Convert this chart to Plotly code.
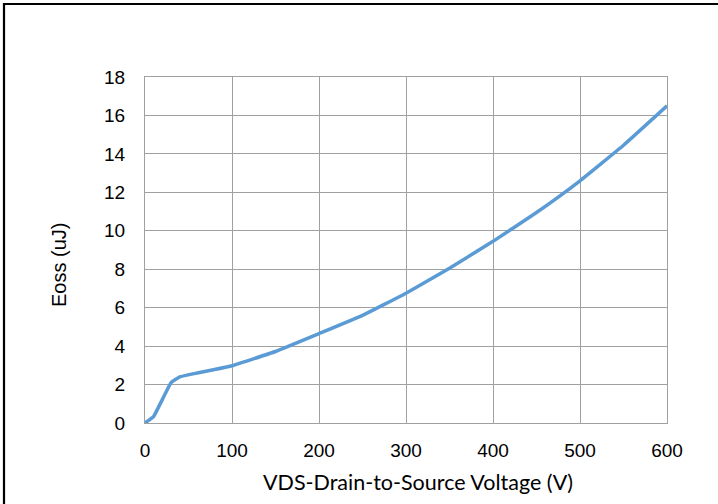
import plotly.graph_objects as go

vds = [0, 10, 30, 40, 60, 80, 100, 150, 200, 250, 300, 350, 400, 450, 500, 550, 600]
eoss = [0, 0.35, 2.1, 2.4, 2.6, 2.78, 2.98, 3.72, 4.65, 5.6, 6.75, 8.05, 9.45, 10.95, 12.6, 14.45, 16.5]
x_ticks = [0, 100, 200, 300, 400, 500, 600]
y_ticks = [0, 2, 4, 6, 8, 10, 12, 14, 16, 18]

W, H = 718, 504
L, R, T, B = 145, 51, 77, 81
pw, ph = W - L - R, H - T - B

def px(xp):
    return (xp - L) / pw

def py(yp):
    return (H - B - yp) / ph

fig = go.Figure()
fig.add_trace(go.Scatter(x=vds, y=eoss, mode="lines",
                         line=dict(color="#5B9BD5", width=3.5, shape="spline", smoothing=0.3),
                         showlegend=False, hoverinfo="skip"))

tickfont = dict(family="Liberation Sans, Arial, sans-serif", size=19, color="#000000")
fig.update_xaxes(range=[0, 600], tickvals=x_ticks, ticktext=[str(v) for v in x_ticks],
                 showgrid=True, gridcolor="#A0A0A0", gridwidth=1.3, zeroline=False,
                 showline=True, linecolor="#A0A0A0", linewidth=1.3, mirror=True,
                 tickfont=tickfont, ticks="", ticklabelstandoff=10)
fig.update_yaxes(range=[0, 18], tickvals=y_ticks, ticktext=[str(v) for v in y_ticks],
                 showgrid=True, gridcolor="#A0A0A0", gridwidth=1.3, zeroline=False,
                 showline=True, linecolor="#A0A0A0", linewidth=1.3, mirror=True,
                 tickfont=tickfont, ticks="", ticklabelstandoff=15)

fig.add_annotation(text="VDS-Drain-to-Source Voltage (V)", xref="paper", yref="paper",
                   x=px(418), y=py(482), showarrow=False, xanchor="center", yanchor="middle",
                   font=dict(family="Lato, Open Sans, sans-serif", size=21.5, color="#000000"))
fig.add_annotation(text="Eoss (uJ)", xref="paper", yref="paper", textangle=-90,
                   x=px(59), y=py(265), showarrow=False, xanchor="center", yanchor="middle",
                   font=dict(family="Liberation Sans, Arial, sans-serif", size=20, color="#000000"))

fig.add_shape(type="rect", xref="paper", yref="paper",
              x0=px(4), x1=px(W + 20), y0=py(H + 20), y1=py(4),
              line=dict(color="#000000", width=2.2), fillcolor="rgba(0,0,0,0)", layer="below")

fig.update_layout(width=W, height=H, margin=dict(l=L, r=R, t=T, b=B),
                  paper_bgcolor="#FFFFFF", plot_bgcolor="#FFFFFF")

fig.write_html("out.html", config={"displayModeBar": False},
               post_script="document.body.style.margin='0';document.body.style.overflow='hidden';")
